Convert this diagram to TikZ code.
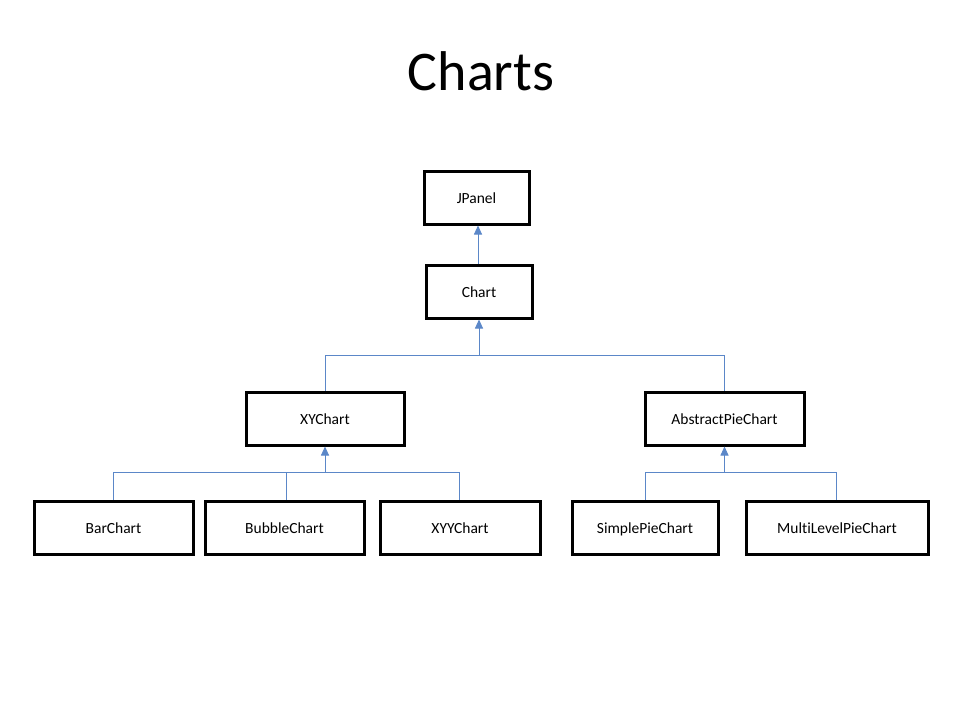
\documentclass[tikz,border=0pt]{standalone}
\usepackage{fontspec}
\setmainfont{Carlito}[Ligatures=NoCommon]
\usetikzlibrary{arrows.meta}
\begin{document}
\begin{tikzpicture}[x=1pt,y=-1pt,
  cls/.style={draw=black,line width=3pt,fill=white,minimum height=53pt,inner sep=0pt,text height=13pt,text depth=2pt,font=\fontsize{15.5}{17}\selectfont},
  conn/.style={draw={rgb,255:red,91;green,135;blue,200},line width=0.9pt},
  inh/.style={conn,-{Triangle[length=9pt,width=8pt]}}]
\useasboundingbox (0,0) rectangle (960,720);
\node[font=\fontsize{56}{62}\selectfont] (title) at (481,71) {Charts};
\node[cls,minimum width=105pt] (jpanel) at (476.5,197.5) {JPanel};
\node[cls,minimum width=106pt] (chart) at (479,291.5) {Chart};
\node[cls,minimum width=158pt] (xy) at (325,418.5) {XYChart};
\node[cls,minimum width=159pt] (apc) at (724.5,418.5) {AbstractPieChart};
\node[cls,minimum width=159pt] (bar) at (113.5,527.5) {BarChart};
\node[cls,minimum width=159pt] (bubble) at (284.5,527.5) {BubbleChart};
\node[cls,minimum width=160pt] (xyy) at (460,527.5) {XYYChart};
\node[cls,minimum width=146pt] (spc) at (645,527.5) {SimplePieChart};
\node[cls,minimum width=182pt] (mlpc) at (837,527.5) {MultiLevelPieChart};
\coordinate (cj) at (479,355);
\coordinate (xj) at (325,472);
\coordinate (aj) at (724.5,472);
% Chart -> JPanel
\draw[inh] (chart.north -| 478,0) -- (jpanel.south -| 478,0);
% XYChart, AbstractPieChart -> Chart
\draw[conn] (xy.north) |- (cj);
\draw[conn] (apc.north) |- (cj);
\draw[inh] (cj) -- (chart.south);
% XYChart children
\draw[conn] (bar.north) |- (xj);
\draw[conn] (bubble.north -| 286,0) |- (xj);
\draw[conn] (xyy.north -| 459,0) |- (xj);
\draw[inh] (xj) -- (xy.south);
% AbstractPieChart children
\draw[conn] (spc.north) |- (aj);
\draw[conn] (mlpc.north -| 836,0) |- (aj);
\draw[inh] (aj) -- (apc.south);
\end{tikzpicture}
\end{document}
